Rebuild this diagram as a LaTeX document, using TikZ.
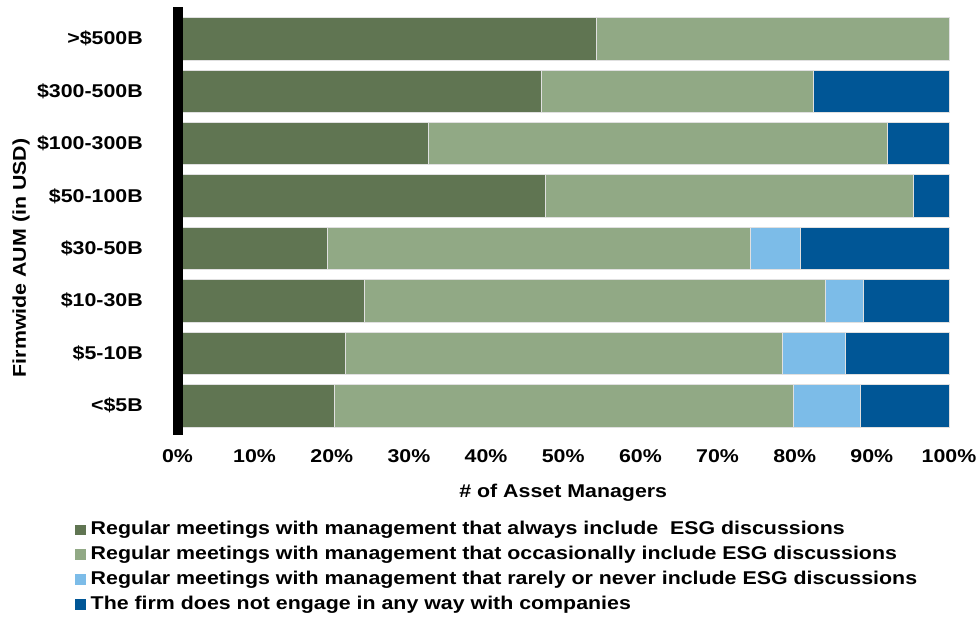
\documentclass[tikz,border=0pt]{standalone}
\usepackage{fontspec}
\setmainfont{Liberation Sans}[FakeStretch=1.155]
\usepackage{tikz}
\usetikzlibrary{positioning}
\definecolor{always}{RGB}{96,117,82}
\definecolor{occas}{RGB}{145,169,133}
\definecolor{rarely}{RGB}{124,188,232}
\definecolor{noeng}{RGB}{0,86,150}

\begin{document}
\begin{tikzpicture}[x=1pt,y=-1pt]
                \tikzstyle{every node}+=[inner sep=0pt,font=\fontsize{18.5}{22}\selectfont\bfseries]
                \tikzstyle{seg}=[draw=black!12,line width=0.4pt]
                \useasboundingbox (0,0) rectangle (979,617);
                % >$500B
                \draw [seg,fill=always] (177.5,17.5) rectangle (596,60);
                \draw [seg,fill=occas] (596,17.5) rectangle (949,60);
                \node [anchor=east] (c1) at (143,38.8) {>\$500B};
                % $300-500B
                \draw [seg,fill=always] (177.5,69.9) rectangle (541,112.3);
                \draw [seg,fill=occas] (541,69.9) rectangle (813.3,112.3);
                \draw [seg,fill=noeng] (813.3,69.9) rectangle (949,112.3);
                \node [anchor=east] (c2) at (143,91.1) {\$300-500B};
                % $100-300B
                \draw [seg,fill=always] (177.5,122.3) rectangle (428,164.7);
                \draw [seg,fill=occas] (428,122.3) rectangle (887,164.7);
                \draw [seg,fill=noeng] (887,122.3) rectangle (949,164.7);
                \node [anchor=east] (c3) at (143,143.5) {\$100-300B};
                % $50-100B
                \draw [seg,fill=always] (177.5,174.7) rectangle (545,217.1);
                \draw [seg,fill=occas] (545,174.7) rectangle (912.7,217.1);
                \draw [seg,fill=noeng] (912.7,174.7) rectangle (949,217.1);
                \node [anchor=east] (c4) at (143,195.9) {\$50-100B};
                % $30-50B
                \draw [seg,fill=always] (177.5,227.1) rectangle (327,269.5);
                \draw [seg,fill=occas] (327,227.1) rectangle (750.3,269.5);
                \draw [seg,fill=rarely] (750.3,227.1) rectangle (800,269.5);
                \draw [seg,fill=noeng] (800,227.1) rectangle (949,269.5);
                \node [anchor=east] (c5) at (143,248.3) {\$30-50B};
                % $10-30B
                \draw [seg,fill=always] (177.5,279.5) rectangle (364,321.9);
                \draw [seg,fill=occas] (364,279.5) rectangle (825,321.9);
                \draw [seg,fill=rarely] (825,279.5) rectangle (862.7,321.9);
                \draw [seg,fill=noeng] (862.7,279.5) rectangle (949,321.9);
                \node [anchor=east] (c6) at (143,300.7) {\$10-30B};
                % $5-10B
                \draw [seg,fill=always] (177.5,331.9) rectangle (344.7,374.3);
                \draw [seg,fill=occas] (344.7,331.9) rectangle (782.3,374.3);
                \draw [seg,fill=rarely] (782.3,331.9) rectangle (845.3,374.3);
                \draw [seg,fill=noeng] (845.3,331.9) rectangle (949,374.3);
                \node [anchor=east] (c7) at (143,353.1) {\$5-10B};
                % <$5B
                \draw [seg,fill=always] (177.5,384.3) rectangle (333.7,426.7);
                \draw [seg,fill=occas] (333.7,384.3) rectangle (793,426.7);
                \draw [seg,fill=rarely] (793,384.3) rectangle (860,426.7);
                \draw [seg,fill=noeng] (860,384.3) rectangle (949,426.7);
                \node [anchor=east] (c8) at (143,405.5) {<\$5B};
                % axis
                \fill [black] (172.7,7.3) rectangle (183,435);
                \node (t0) at (177.5,456) {0\%};
                \node (t1) at (254.6,456) {10\%};
                \node (t2) at (331.8,456) {20\%};
                \node (t3) at (408.9,456) {30\%};
                \node (t4) at (486.1,456) {40\%};
                \node (t5) at (563.2,456) {50\%};
                \node (t6) at (640.4,456) {60\%};
                \node (t7) at (717.5,456) {70\%};
                \node (t8) at (794.7,456) {80\%};
                \node (t9) at (871.8,456) {90\%};
                \node (t10) at (949,456) {100\%};
                \node (xt) at (563.2,493) {\# of Asset Managers};
                \node [rotate=90] (yt) at (21,258) {Firmwide AUM (in USD)};
                % legend
                \fill [always] (75,524.8) rectangle (86,535.3);
                \node [anchor=west] (l1) at (90.5,530) {Regular meetings with management that always include\ \ ESG discussions};
                \fill [occas] (75,549.3) rectangle (86,559.8);
                \node [anchor=west] (l2) at (90.5,554.5) {Regular meetings with management that occasionally include ESG discussions};
                \fill [rarely] (75,574.3) rectangle (86,584.8);
                \node [anchor=west] (l3) at (90.5,579.5) {Regular meetings with management that rarely or never include ESG discussions};
                \fill [noeng] (75,599.3) rectangle (86,609.8);
                \node [anchor=west] (l4) at (90.5,604.5) {The firm does not engage in any way with companies};
\end{tikzpicture}
\end{document}
